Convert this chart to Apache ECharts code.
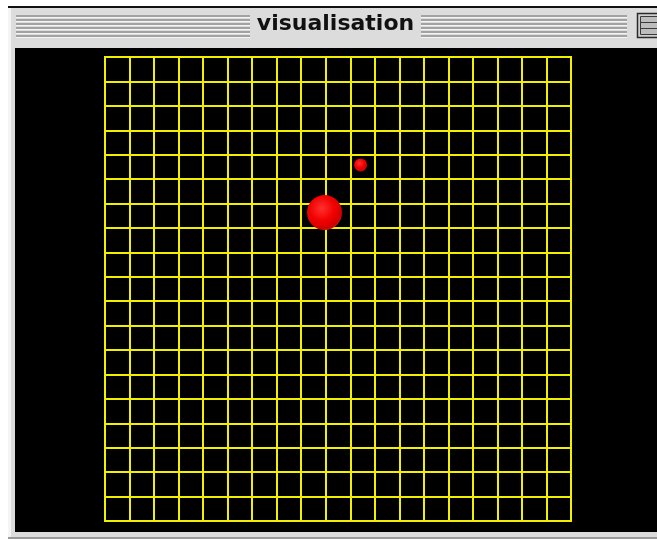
<!DOCTYPE html>
<html>
<head>
<meta charset="utf-8">
<title>visualisation</title>
<script src="https://cdn.jsdelivr.net/npm/echarts@6/dist/echarts.min.js"></script>
<style>
  html, body { margin: 0; padding: 0; background: #fff; }
  #chart { width: 657px; height: 541px; }
</style>
</head>
<body>
<div id="chart"></div>
<script>
// window title
const windowTitle = "visualisation"

// the board is a 19 x 19 lattice
const boardMin = 0
const boardMax = 19

// bodies on the board: x, y (from bottom) and radius in px
const bodyX = [8.95, 10.42]
const bodyY = [12.63, 14.58]
const bodyRadius = [17.5, 6.5]

const chart = echarts.init(document.getElementById("chart"), null, { renderer: "canvas" })

const gridYellow = "#f0f000"

// title bar stripes (embossed, dark line + white line)
function stripes(x1, x2) {
  const out = []
  for (let i = 0; i < 6; i++) {
    const y = 15 + i * 4
    out.push({
      type: "rect",
      shape: { x: x1, y: y, width: x2 - x1, height: 2 },
      style: { fill: "#a2a2a2" },
      silent: true,
    })
    out.push({
      type: "rect",
      shape: { x: x1, y: y + 2, width: x2 - x1, height: 1 },
      style: { fill: "#f4f4f4" },
      silent: true,
    })
  }
  return out
}

const chrome = [
  // frame
  { type: "rect", shape: { x: 8, y: 6, width: 660, height: 2 }, style: { fill: "#111" }, silent: true, z: -10 },
  { type: "rect", shape: { x: 8, y: 8, width: 660, height: 533 }, style: { fill: "#dcdcdc" }, silent: true, z: -10 },
  { type: "rect", shape: { x: 8, y: 8, width: 3, height: 530 }, style: { fill: "#f4f4f4" }, silent: true, z: -9 },
  { type: "rect", shape: { x: 8, y: 537, width: 660, height: 2 }, style: { fill: "#9a9a9a" }, silent: true, z: -9 },
  { type: "rect", shape: { x: 0, y: 539, width: 660, height: 4 }, style: { fill: "#ffffff" }, silent: true, z: -9 },
  // content area
  { type: "rect", shape: { x: 15, y: 48, width: 650, height: 484 }, style: { fill: "#000" }, silent: true, z: -8 },
  ...stripes(16, 250),
  ...stripes(421, 627),
  // zoom box
  { type: "rect", shape: { x: 637.5, y: 13.5, width: 30, height: 24 }, style: { fill: "#cfcfcf", stroke: "#2a2a2a", lineWidth: 1.5 }, silent: true },
  { type: "rect", shape: { x: 640.5, y: 16.5, width: 30, height: 18 }, style: { fill: "#bdbdbd", stroke: "#3a3a3a", lineWidth: 1 }, silent: true },
  { type: "line", shape: { x1: 641, y1: 22.5, x2: 660, y2: 22.5 }, style: { stroke: "#3a3a3a", lineWidth: 1 }, silent: true },
  { type: "line", shape: { x1: 641, y1: 28.5, x2: 660, y2: 28.5 }, style: { stroke: "#3a3a3a", lineWidth: 1 }, silent: true },
  // title
  {
    type: "rect",
    shape: { x: 251, y: 12, width: 169, height: 28 },
    style: { fill: "#dcdcdc" },
    silent: true,
  },
  {
    type: "text",
    x: 335.5,
    y: 35,
    style: {
      text: windowTitle,
      fill: "#111",
      font: "bold 22px 'DejaVu Sans'",
      align: "center",
      verticalAlign: "bottom",
    },
    silent: true,
  },
]

const bodies = bodyX.map((x, i) => [x, bodyY[i], bodyRadius[i]])

const option = {
  backgroundColor: "#fff",
  animation: false,
  graphic: chrome,
  grid: {
    left: 105,
    top: 57,
    width: 466,
    height: 464,
    show: true,
    borderColor: gridYellow,
    borderWidth: 2,
    backgroundColor: "transparent",
  },
  xAxis: {
    type: "value",
    min: boardMin,
    max: boardMax,
    interval: 1,
    axisLabel: { show: false },
    axisTick: { show: false },
    axisLine: { show: false },
    splitLine: { show: true, lineStyle: { color: gridYellow, width: 2 } },
  },
  yAxis: {
    type: "value",
    min: boardMin,
    max: boardMax,
    interval: 1,
    axisLabel: { show: false },
    axisTick: { show: false },
    axisLine: { show: false },
    splitLine: { show: true, lineStyle: { color: gridYellow, width: 2 } },
  },
  series: [
    {
      type: "scatter",
      data: bodies,
      symbol: "circle",
      symbolSize: (d) => d[2] * 2,
      itemStyle: {
        color: new echarts.graphic.RadialGradient(0.42, 0.38, 0.65, [
          { offset: 0, color: "#ff3030" },
          { offset: 0.55, color: "#f20000" },
          { offset: 0.9, color: "#d00000" },
          { offset: 1, color: "#b82020" },
        ]),
        opacity: 1,
      },
      z: 5,
    },
  ],
}

chart.setOption(option)
</script>
</body>
</html>
